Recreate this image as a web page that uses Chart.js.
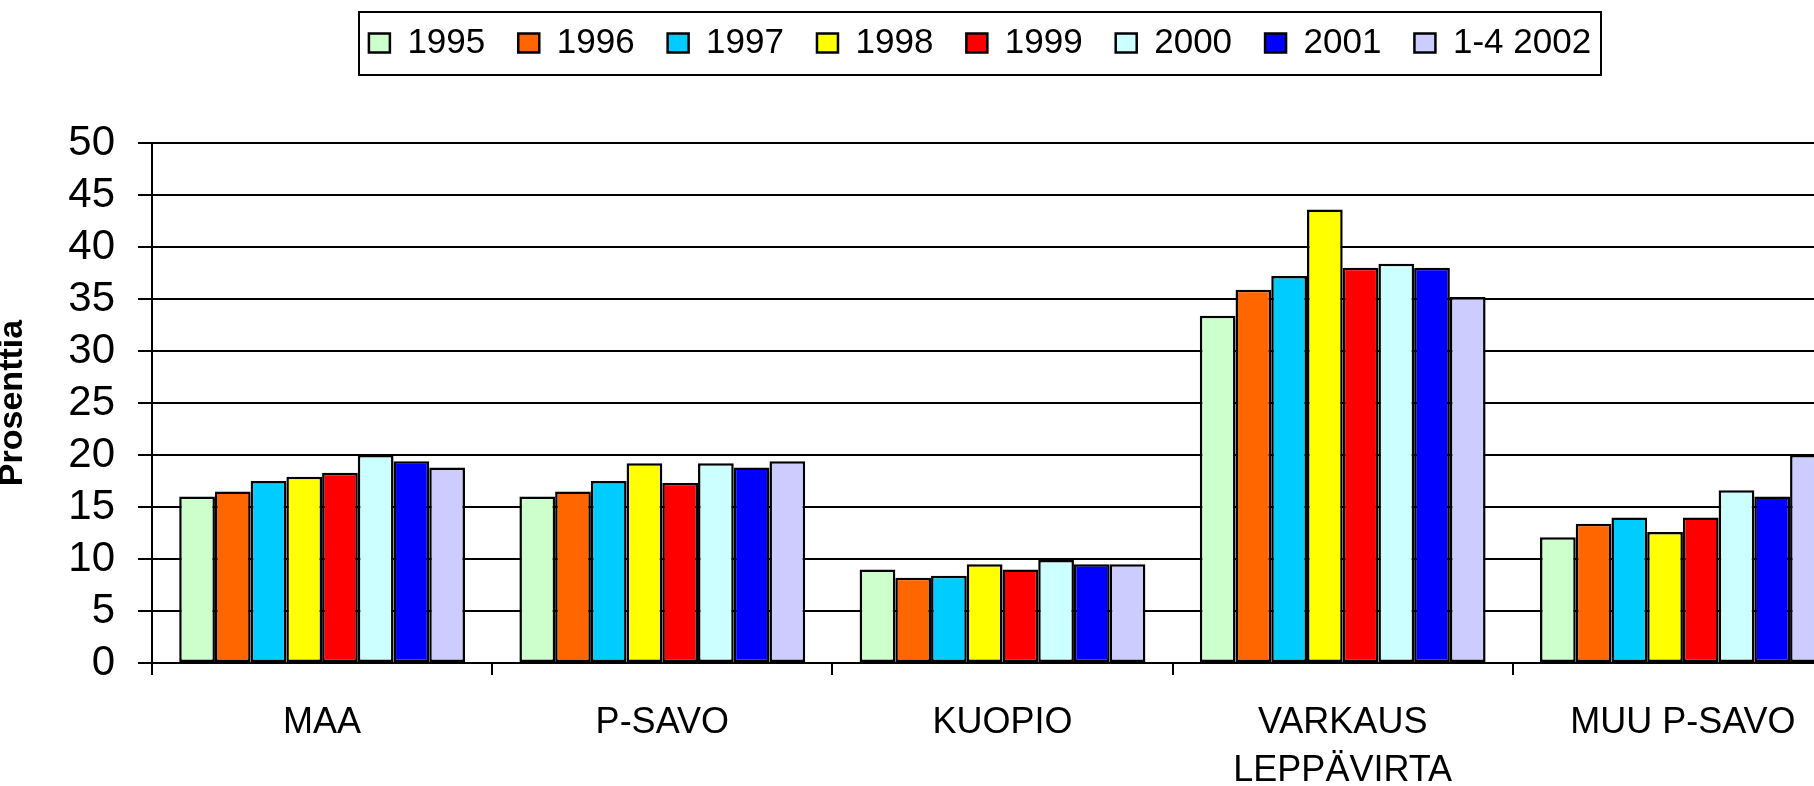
<!DOCTYPE html>
<html>
<head>
<meta charset="utf-8">
<script src="https://cdn.jsdelivr.net/npm/chart.js@4"></script>
<style>
	html, body { margin: 0; padding: 0; overflow: hidden; background: #fff; }
	canvas { display: block; }
</style>
</head>
<body>
<canvas id="canvas-chart" width="1900" height="786"></canvas>
<script>
// Areas on the x axis.
var areas = ['MAA', 'P-SAVO', 'KUOPIO', ['VARKAUS', 'LEPPÄVIRTA'], 'MUU P-SAVO'];

// Percentages per year, in the order of the areas.
var y1995 = [16.0, 16.0, 9.0, 33.4, 12.1];
var y1996 = [16.5, 16.5, 8.2, 35.9, 13.4];
var y1997 = [17.5, 17.5, 8.4, 37.2, 14.0];
var y1998 = [17.9, 19.2, 9.5, 43.6, 12.6];
var y1999 = [18.3, 17.3, 9.0, 38.0, 14.0];
var y2000 = [20.0, 19.2, 9.9, 38.4, 16.6];
var y2001 = [19.4, 18.8, 9.5, 38.0, 16.0];
var y2002 = [18.8, 19.4, 9.5, 35.2, 20.0];

var seriesLabels = ['1995', '1996', '1997', '1998', '1999', '2000', '2001', '1-4 2002'];
var seriesValues = [y1995, y1996, y1997, y1998, y1999, y2000, y2001, y2002];
var seriesColors = ['#ccffcc', '#ff6600', '#00ccff', '#ffff00', '#ff0000', '#ccffff', '#0000ff', '#ccccff'];

var yTicks = { min: 0, max: 50, step: 5 };

var font = "'Liberation Sans', Arial, sans-serif";
var legendSize = 35;

// Moves the legend to its place and draws the frame round it.
var legendFrame = {
	id: 'legendFrame',
	afterLayout: function (chart) {
		var lg = chart.legend;
		var pad = lg.options.labels.padding;
		var dx = 980 - (lg.left + lg.right) / 2;
		var dy = 43 - (lg.top + pad + legendSize / 2);
		lg.left += dx;
		lg.right += dx;
		lg.top += dy;
		lg.bottom += dy;
	},
	afterDraw: function (chart) {
		var lg = chart.legend;
		var ctx = chart.ctx;
		var cx = (lg.left + lg.right) / 2;
		var cy = lg.top + lg.options.labels.padding + legendSize / 2;
		ctx.save();
		ctx.strokeStyle = '#000';
		ctx.lineWidth = 2;
		ctx.strokeRect(cx - 621, cy - 31, 1242, 63);
		ctx.restore();
	}
};

var datasets = seriesLabels.map(function (label, i) {
	return {
		label: label,
		data: seriesValues[i],
		backgroundColor: seriesColors[i],
		borderColor: '#000',
		borderWidth: 2.5,
		borderSkipped: false,
		categoryPercentage: 0.84,
		barPercentage: 1.0
	};
});

var ctx = document.getElementById('canvas-chart').getContext('2d');
var chart = new Chart(ctx, {
	type: 'bar',
	data: { labels: areas, datasets: datasets },
	plugins: [legendFrame],
	options: {
		responsive: false,
		animation: false,
		layout: { padding: { left: 0, right: 47, top: 65, bottom: 0 } },
		plugins: {
			legend: {
				position: 'top',
				labels: {
					boxWidth: 21,
					boxHeight: 19,
					padding: 33,
					color: '#000',
					font: { family: font, size: legendSize }
				}
			},
			tooltip: { enabled: false }
		},
		scales: {
			x: {
				afterFit: function (scale) { scale.height = 123; },
				grid: {
					display: true,
					drawOnChartArea: false,
					drawTicks: true,
					tickLength: 12,
					color: '#000',
					lineWidth: 2
				},
				border: { display: true, color: '#000', width: 2 },
				ticks: {
					color: '#000',
					padding: 24,
					maxRotation: 0,
					autoSkip: false,
					font: { family: font, size: 36, lineHeight: 1.333 }
				}
			},
			y: {
				min: yTicks.min,
				max: yTicks.max,
				afterFit: function (scale) { scale.width = 152; },
				grid: {
					color: '#000',
					lineWidth: 2,
					drawTicks: true,
					tickLength: 14
				},
				border: { display: true, color: '#000', width: 2 },
				ticks: {
					stepSize: yTicks.step,
					autoSkip: false,
					color: '#000',
					padding: 23,
					font: { family: font, size: 42 }
				},
				title: {
					display: true,
					text: 'Prosenttia',
					color: '#000',
					padding: { top: -4, bottom: 0 },
					font: { family: font, size: 34, weight: 'bold', lineHeight: 1 }
				}
			}
		}
	}
});
</script>
</body>
</html>
